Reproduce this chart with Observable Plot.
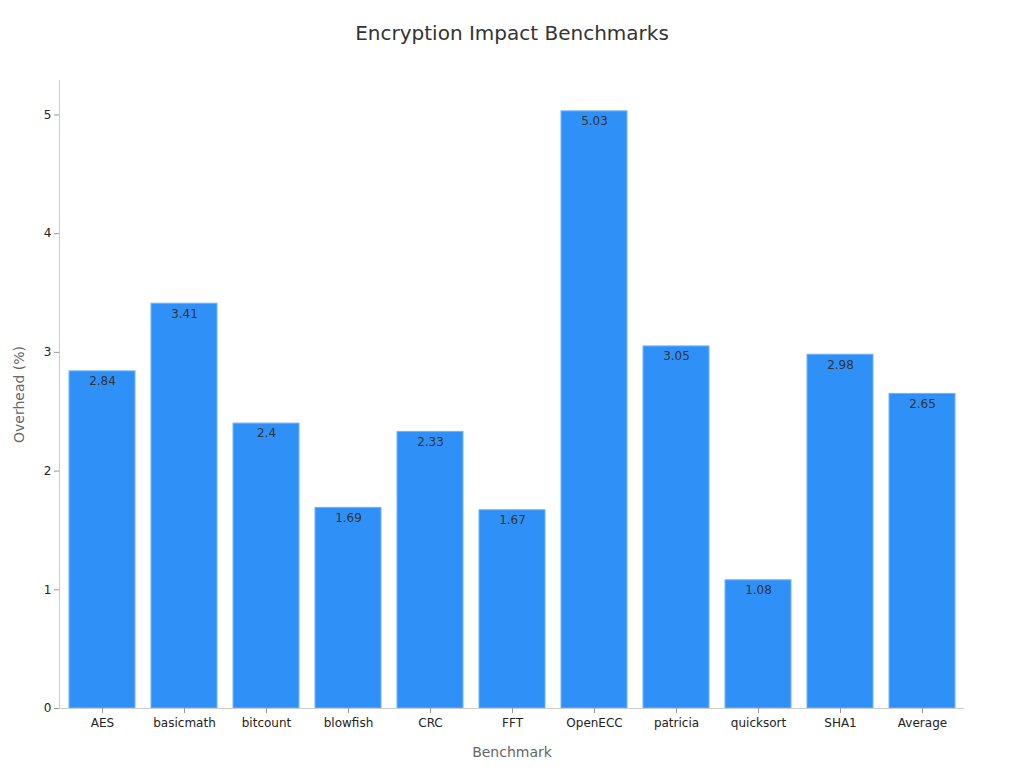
<!DOCTYPE html>
<html>
<head>
<meta charset="utf-8">
<script src="https://cdn.jsdelivr.net/npm/d3@7"></script>
<script src="https://cdn.jsdelivr.net/npm/@observablehq/plot@0.6"></script>
<style>
  body { margin: 0; background: #fff; font-family: "DejaVu Sans", sans-serif; }
  #title { height: 66px; line-height: 66px; text-align: center; font-size: 20px; color: #333; }
</style>
</head>
<body>
<div id="title">Encryption Impact Benchmarks</div>
<div id="chart"></div>
<script>
const benchmarks = ["AES", "basicmath", "bitcount", "blowfish", "CRC", "FFT", "OpenECC", "patricia", "quicksort", "SHA1", "Average"];
const overhead = [2.84, 3.41, 2.4, 1.69, 2.33, 1.67, 5.03, 3.05, 1.08, 2.98, 2.65];
const yTicks = [0, 1, 2, 3, 4, 5];

const data = benchmarks.map((b, i) => ({benchmark: b, value: overhead[i]}));

const chart = Plot.plot({
  width: 1024,
  height: 702,
  marginTop: 14,
  marginBottom: 60,
  marginLeft: 59,
  marginRight: 60,
  style: {fontFamily: "DejaVu Sans, sans-serif", fontSize: "12px", color: "#222", background: "#fff"},
  x: {domain: benchmarks, paddingInner: 0.2, paddingOuter: 0.1, label: null},
  y: {domain: [0, 5.29], label: null},
  marks: [
    Plot.barY(data, {x: "benchmark", y: "value", fill: "#2f91f8", stroke: "#6fb3fb", strokeWidth: 1}),
    Plot.text(data, {x: "benchmark", y: "value", text: d => String(d.value), dy: 10, fill: "#333", fontSize: 12}),
    Plot.ruleY([0], {stroke: "#ccc"}),
    Plot.frame({anchor: "left", stroke: "#ccc"}),
    Plot.axisY({ticks: yTicks, tickFormat: "d", tickSize: 5, tickPadding: 3, stroke: "#999", fill: "#222", fontSize: 12, label: "Overhead (%)", labelAnchor: "center", labelArrow: false, labelOffset: 45}),
    Plot.axisX({tickSize: 5, tickPadding: 5, stroke: "#999", fill: "#222", fontSize: 12, label: "Benchmark", labelAnchor: "center", labelArrow: false, labelOffset: 48})
  ]
});
document.getElementById("chart").appendChild(chart);
chart.querySelectorAll("g[aria-label='y-axis label'] text, g[aria-label='x-axis label'] text").forEach(t => {
  t.setAttribute("fill", "#666");
  t.style.fontSize = "14px";
});
</script>
</body>
</html>
